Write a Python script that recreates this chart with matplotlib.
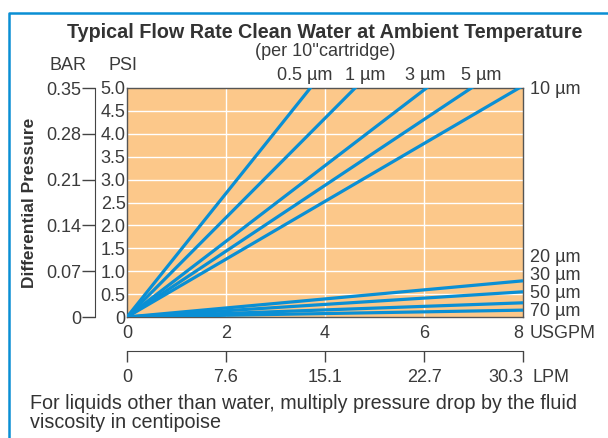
import numpy as np
import matplotlib.pyplot as plt
from matplotlib.lines import Line2D

plt.rcParams['font.family'] = ['Liberation Sans', 'DejaVu Sans']

# data (psi drop at 8 USGPM for each cartridge rating)
ratings = ["0.5 µm", "1 µm", "3 µm", "5 µm", "10 µm", "20 µm", "30 µm", "50 µm", "70 µm"]
psi_at_8 = [10.8, 8.68, 6.61, 5.75, 5.05, 0.79, 0.55, 0.31, 0.15]
usgpm_ticks = [0, 2, 4, 6, 8]
lpm_labels = ["0", "7.6", "15.1", "22.7", "30.3"]
psi_ticks = [0, 0.5, 1.0, 1.5, 2.0, 2.5, 3.0, 3.5, 4.0, 4.5, 5.0]
psi_labels = ["0", "0.5", "1.0", "1.5", "2.0", "2.5", "3.0", "3.5", "4.0", "4.5", "5.0"]
bar_ticks = [0, 1, 2, 3, 4, 5]
bar_labels = ["0", "0.07", "0.14", "0.21", "0.28", "0.35"]

txt = "#3a3a3a"
blue = "#0a8fd4"
fs = 13
W, H = 608, 438

fig = plt.figure(figsize=(6.08, 4.38), dpi=100)
ax = fig.add_axes([127 / W, (H - 317) / H, 396 / W, 229 / H])
ax.set_facecolor("#fcc88a")

for v in usgpm_ticks[1:-1]:
    ax.axvline(v, color="white", lw=1.0, zorder=1)
for v in psi_ticks[1:-1]:
    ax.axhline(v, color="white", lw=1.0, zorder=1)

x = np.array([0, 8])
for p in psi_at_8:
    ax.plot(x, x * p / 8, color=blue, lw=2.3, zorder=3, solid_capstyle="butt")

ax.set_xlim(0, 8)
ax.set_ylim(0, 5)
for s in ax.spines.values():
    s.set_color("#555555")
    s.set_linewidth(1.0)

ax.set_xticks(usgpm_ticks)
ax.set_yticks(psi_ticks)
ax.set_yticklabels(psi_labels)
ax.tick_params(axis="both", length=0, labelsize=fs, colors=txt)
ax.tick_params(axis="x", pad=6)
ax.tick_params(axis="y", pad=1)
ax.get_xticklabels()[-1].set_ha("right")

# BAR scale
bar = ax.secondary_yaxis(-32 / 396)
bar.set_yticks(bar_ticks)
bar.set_yticklabels(bar_labels)
bar.tick_params(length=9.5, width=1.0, color="#444444", labelsize=fs, labelcolor=txt, pad=0.5)
bar.spines["left"].set_color("#444444")

# LPM scale
lpm = ax.secondary_xaxis(-34 / 229)
lpm.set_xticks(usgpm_ticks)
lpm.set_xticklabels(lpm_labels)
lpm.tick_params(length=8, width=1.0, color="#444444", labelsize=fs, labelcolor=txt, pad=5)
lpm.spines["bottom"].set_color("#444444")
lpm.get_xticklabels()[-1].set_ha("right")

# line labels
top_pos = [(305, 76), (365, 76), (425, 76), (481, 76)]
for (px, py), name in zip(top_pos, ratings[:4]):
    fig.text(px / W, 1 - py / H, name, ha="center", va="center", fontsize=fs, color=txt)
right_pos = [90, 258, 276, 294, 311]
for py, name in zip(right_pos, ratings[4:]):
    fig.text(530 / W, 1 - py / H, name, ha="left", va="center", fontsize=fs, color=txt)

fig.text(530 / W, 1 - 334 / H, "USGPM", ha="left", va="center", fontsize=fs, color=txt)
fig.text(532 / W, 1 - 378 / H, "LPM", ha="left", va="center", fontsize=fs, color=txt)
fig.text(68 / W, 1 - 66 / H, "BAR", ha="center", va="center", fontsize=fs, color=txt)
fig.text(123 / W, 1 - 66 / H, "PSI", ha="center", va="center", fontsize=fs, color=txt)

fig.text(325 / W, 1 - 32 / H, "Typical Flow Rate Clean Water at Ambient Temperature",
         ha="center", va="center", fontsize=14.2, fontweight="bold", color="#333333")
fig.text(325 / W, 1 - 51 / H, "(per 10''cartridge)", ha="center", va="center",
         fontsize=fs, color=txt)
fig.text(30 / W, 1 - 203 / H, "Differential Pressure", rotation=90, ha="center",
         va="center", fontsize=12.5, fontweight="bold", color="#333333")
fig.text(30 / W, 1 - 413 / H,
         "For liquids other than water, multiply pressure drop by the fluid\nviscosity in centipoise",
         ha="left", va="center", fontsize=14.2, color="#333333", linespacing=1.0)

# blue frame at top and left
fig.add_artist(Line2D([9 / W, 9 / W, 1], [0, 1 - 13 / H, 1 - 13 / H],
                      transform=fig.transFigure, color=blue, lw=1.8))

fig.savefig("out.png", dpi=100)
